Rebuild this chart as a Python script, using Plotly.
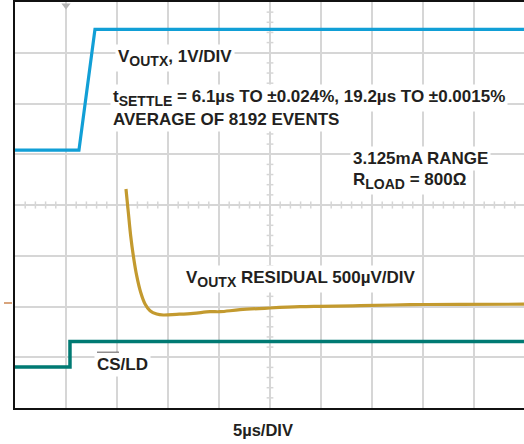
import plotly.graph_objects as go

# ---- data (time in µs, amplitude in scope divisions, 0 = centre line) ----
vout_t = [0.0, 6.27, 7.84, 49.9]
vout_v = [1.08, 1.08, 3.46, 3.46]

cs_t = [0.0, 5.39, 5.39, 49.9]
cs_v = [-3.19, -3.19, -2.69, -2.69]

res_t = [10.88, 11.11, 11.34, 11.60, 11.93, 12.32, 12.75, 13.24, 13.89, 14.54,
         15.85, 17.48, 19.12, 20.10, 22.06, 25.00, 27.94, 29.90, 33.82, 38.73,
         43.63, 49.90]
res_v = [0.315, -0.144, -0.605, -0.999, -1.393, -1.720, -1.951, -2.083, -2.148, -2.167,
         -2.154, -2.134, -2.102, -2.102, -2.063, -2.030, -2.004, -1.996, -1.984, -1.964,
         -1.957, -1.955]

W, H = 524, 444
L, R, T, B = 15, 0, 2, 36
PW, PH = W - L - R, H - T - B
X_RANGE = [0, PW / 10.2]   # 5 µs per 51 px
Y_RANGE = [-4, 4]

def px(x):
    return (x - L) / PW

def py(y):
    return (H - B - y) / PH

FONT = "Liberation Sans, Arial, Helvetica, sans-serif"
GRID = "#d6d6d6"
TXT = "#231f20"

def sub(s):
    return '<sub><span style="font-size:14px">' + s + '</span></sub>'

fig = go.Figure()
fig.add_trace(go.Scatter(x=vout_t, y=vout_v, mode="lines",
                         line=dict(color="#119fd6", width=3.2), hoverinfo="skip"))
fig.add_trace(go.Scatter(x=res_t, y=res_v, mode="lines",
                         line=dict(color="#c39a2f", width=3.2, shape="spline"), hoverinfo="skip"))
fig.add_trace(go.Scatter(x=cs_t, y=cs_v, mode="lines",
                         line=dict(color="#007a73", width=3.5), hoverinfo="skip"))
# trigger marker
fig.add_trace(go.Scatter(x=[5], y=[3.93], mode="markers", cliponaxis=False,
                         marker=dict(symbol="triangle-down", size=8, color="#b4b4b4"),
                         hoverinfo="skip"))

shapes = []
# minor ticks along centre lines
for i in range(1, 50):
    if i % 5:
        shapes.append(dict(type="line", xref="x", yref="y", x0=i, x1=i, y0=-0.07, y1=0.07,
                           line=dict(color=GRID, width=1.5), layer="below"))
for j in range(-20, 21):
    if j % 5:
        shapes.append(dict(type="line", xref="x", yref="y", x0=25 - 0.33, x1=25 + 0.33,
                           y0=j / 5, y1=j / 5, line=dict(color=GRID, width=1.5), layer="below"))
# residual reference marker at left
shapes.append(dict(type="line", xref="paper", yref="paper", x0=px(4), x1=px(12),
                   y0=py(303), y1=py(303), line=dict(color="#d8a47c", width=2)))
# overline for CS
shapes.append(dict(type="line", xref="paper", yref="paper", x0=px(97), x1=px(119),
                   y0=py(352.5), y1=py(352.5), line=dict(color=TXT, width=1.5)))

def ann(text, x, y, xanchor="left", size=17):
    return dict(text=text, xref="paper", yref="paper", x=px(x), y=py(y),
                xanchor=xanchor, yanchor="middle", showarrow=False, align="left",
                font=dict(family=FONT, size=size, color=TXT), bgcolor="white", borderpad=2)

annotations = [
    ann("<b>V" + sub("OUTX") + ", 1V/DIV</b>", 115, 58),
    ann("<b>t" + sub("SETTLE") + " = 6.1µs TO ±0.024%, 19.2µs TO ±0.0015%</b>", 110, 98),
    ann("<b>AVERAGE OF 8192 EVENTS</b>", 110, 120),
    ann("<b>3.125mA RANGE</b>", 350, 158),
    ann("<b>R" + sub("LOAD") + " = 800Ω</b>", 350, 181),
    ann("<b>V" + sub("OUTX") + " RESIDUAL 500µV/DIV</b>", 183, 279),
    ann("<b>CS/LD</b>", 94, 364),
]
annotations.append(dict(text="<b>5µs/DIV</b>", xref="paper", yref="paper", x=px(262.5), y=py(430),
                        xanchor="center", yanchor="middle", showarrow=False,
                        font=dict(family=FONT, size=16.5, color=TXT)))

fig.update_layout(
    width=W, height=H,
    margin=dict(l=L, r=R, t=T, b=B, pad=0),
    paper_bgcolor="white", plot_bgcolor="white",
    showlegend=False,
    shapes=shapes, annotations=annotations,
    xaxis=dict(range=X_RANGE, dtick=5, tick0=0, showgrid=True, gridcolor=GRID, gridwidth=2,
               zeroline=False, showticklabels=False, ticks="",
               showline=True, linecolor="#111111", linewidth=2, mirror=True, fixedrange=True),
    yaxis=dict(range=Y_RANGE, dtick=1, tick0=0, showgrid=True, gridcolor=GRID, gridwidth=1.5,
               zeroline=False, showticklabels=False, ticks="",
               showline=True, linecolor="#111111", linewidth=2, mirror=False, fixedrange=True),
)

fig.write_html("out.html", config={"displayModeBar": False},
               post_script="document.body.style.margin='0';document.body.style.overflow='hidden';")
